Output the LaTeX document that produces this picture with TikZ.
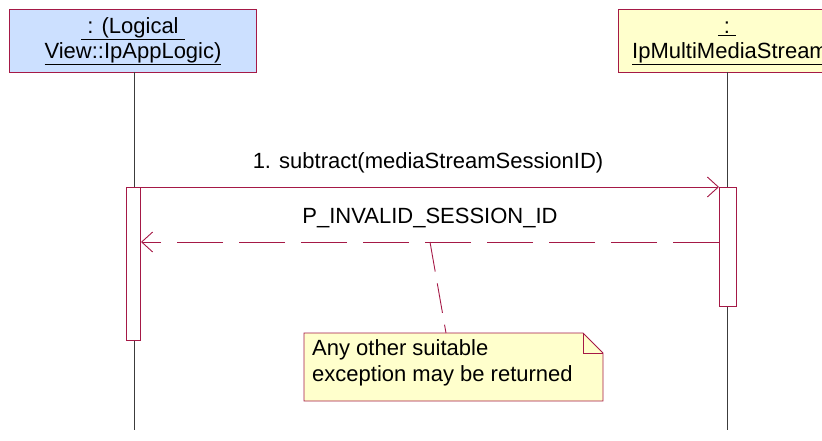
\documentclass[tikz,border=0pt]{standalone}
\usepackage{fontspec}
\setmainfont{Liberation Sans}
\usetikzlibrary{arrows.meta,shapes.misc}
\definecolor{umlred}{RGB}{165,25,70}
\definecolor{objblue}{RGB}{204,224,255}
\definecolor{objyellow}{RGB}{255,255,204}
\definecolor{noteyellow}{RGB}{255,255,204}
\definecolor{lifegray}{RGB}{60,60,60}
\begin{document}
\begin{tikzpicture}[x=1pt,y=-1pt,
  objbox/.style={draw=umlred,line width=0.9pt,inner sep=0pt},
  lbl/.style={font=\fontsize{22}{26}\selectfont,inner sep=0pt,text=black},
  life/.style={draw=lifegray,line width=0.8pt},
  act/.style={draw=umlred,fill=white,line width=0.9pt},
  msg/.style={draw=umlred,line width=0.9pt},
  opentip/.style={-{Straight Barb[length=11pt,width=20pt,line width=0.9pt]}},
  retdash/.style={dash pattern=on 46pt off 16pt}
]
\useasboundingbox (0,0) rectangle (822,441);
% objects
\draw[objbox,fill=objblue] (9,9) rectangle (256,72);
\node[lbl] (o1a) at (133,29) {\underline{\ : (Logical\ }};
\node[lbl] (o1b) at (133,54) {\underline{View::IpAppLogic)}};
\draw[objbox,fill=objyellow] (618,9) rectangle (830,72);
\node[lbl] (o2a) at (727,29) {\underline{\ :\ }};
\node[lbl,anchor=west] (o2b) at (632,54) {\underline{IpMultiMediaStream}};
% lifelines
\coordinate (l1t) at (134,72);
\coordinate (l1b) at (134,430);
\coordinate (l2t) at (727,72);
\coordinate (l2b) at (727,430);
\draw[life] (l1t) -- (l1b);
\draw[life] (l2t) -- (l2b);
% activations
\draw[act] (126,187) rectangle (140,340);
\draw[act] (719,187) rectangle (736,306);
\coordinate (a1) at (140,187);
\coordinate (a2) at (719,187);
\coordinate (r2) at (719,242);
\coordinate (r1) at (141,242);
% call
\draw[msg,opentip] (a1) -- (a2);
\node[lbl] (m1) at (428,163) {1. subtract(mediaStreamSessionID)};
% return
\draw[msg,retdash,opentip] (r2) -- (r1);
\node[lbl] (m2) at (430,218) {P\_INVALID\_SESSION\_ID};
% note
\draw[umlred,line width=0.9pt,fill=noteyellow] (304,333) -- (583,333) -- (603,353) -- (603,401) -- (304,401) -- cycle;
\draw[umlred,line width=0.9pt] (583,333) -- (583,353) -- (603,353);
\node[lbl,anchor=north west,align=left] (note) at (312,339) {Any other suitable\\exception may be returned};
\coordinate (nc1) at (430,242);
\coordinate (nc2) at (446,333);
\draw[msg,dash pattern=on 30pt off 12pt] (nc1) -- (nc2);
\end{tikzpicture}
\end{document}
